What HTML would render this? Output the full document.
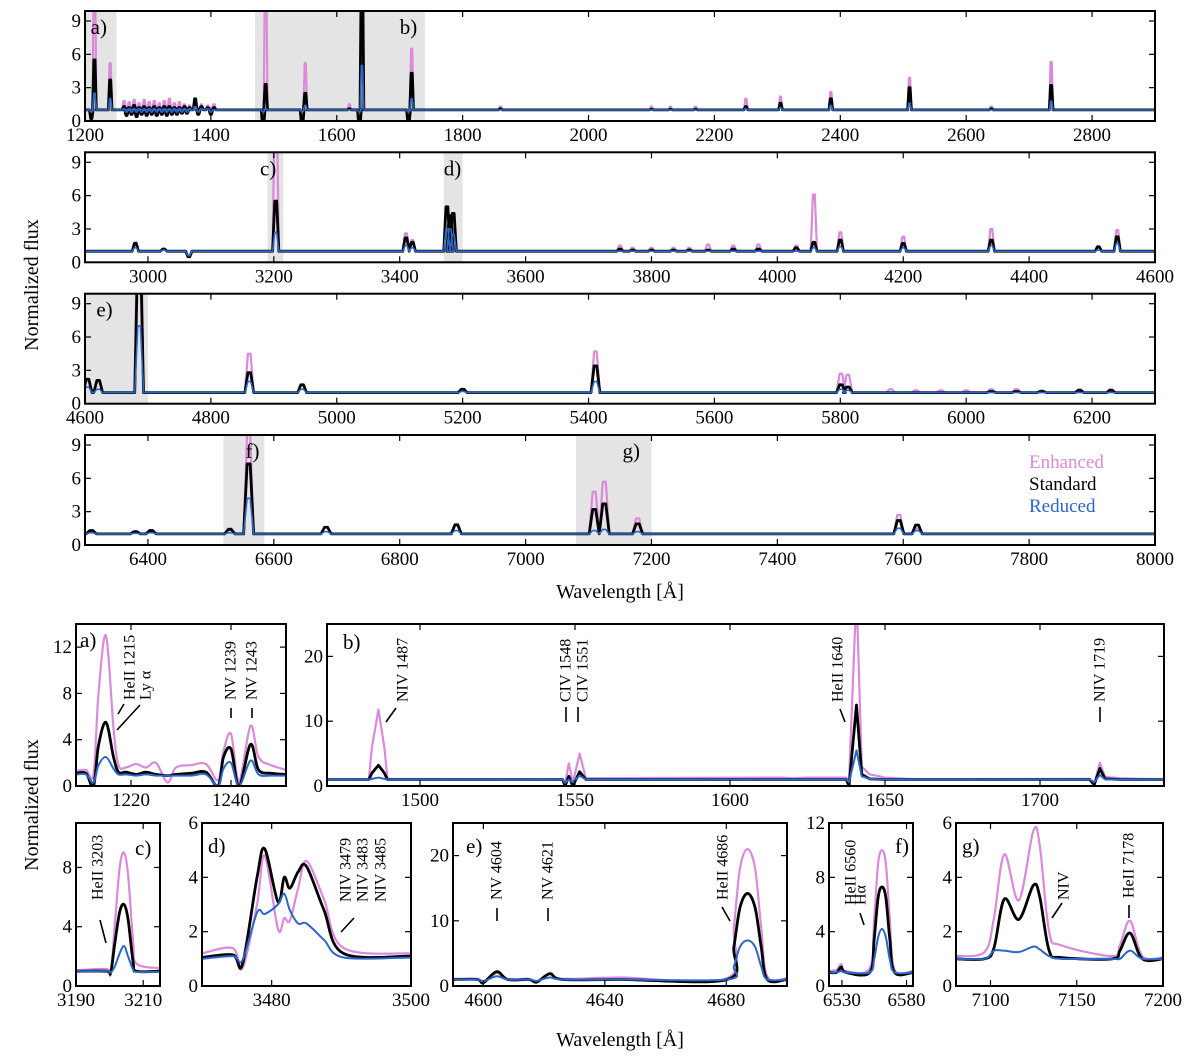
<!DOCTYPE html>
<html><head><meta charset="utf-8"><style>
html,body{margin:0;padding:0;background:#fff;}
svg{display:block;font-family:"Liberation Serif",serif;}
</style></head><body>
<svg id="chart" width="1200" height="1061" viewBox="0 0 1200 1061" xmlns="http://www.w3.org/2000/svg"></svg>
<script>
// ===== Overview panel data (peak wavelengths and peak heights) =====
const p1Wl=[1210,1215,1240,1262,1266,1270,1274,1278,1282,1286,1290,1294,1298,1302,1306,1310,1314,1318,1322,1326,1330,1334,1338,1342,1346,1350,1354,1358,1362,1366,1375,1380,1385,1395,1400,1405,1483,1487,1545,1550,1620,1636,1640,1714,1719,1860,2100,2130,2170,2250,2305,2385,2510,2640,2735];
const p1E=[0.9,15,5.2,1.8,0.7,1.7,0.7,1.9,0.7,1.6,0.7,1.9,0.7,1.7,0.7,1.8,0.7,1.6,0.7,1.8,0.7,2.0,0.7,1.6,0.7,1.7,0.7,1.5,0.7,1.4,2.0,1.2,1.5,1.4,1.2,1.5,0.8,15,0.8,5.2,1.5,0.9,15,0.8,6.5,1.3,1.3,1.3,1.3,2.0,2.2,2.6,3.9,1.3,5.3];
const p1S=[0.2,5.5,3.7,1.3,0.5,1.2,0.6,1.4,0.4,1.2,0.6,1.3,0.5,1.2,0.6,1.3,0.5,1.2,0.6,1.3,0.5,1.3,0.6,1.2,0.6,1.2,0.7,1.3,0.7,1.2,2.0,0.6,1.3,1.2,0.6,1.2,-0.5,3.3,-0.5,2.5,1.1,-0.5,15,-0.3,4.3,1.1,1.05,1.05,1.05,1.3,1.6,2.0,3.0,1.1,3.2];
const p1R=[0.8,2.5,2.0,1.1,0.8,1.1,0.8,1.1,0.8,1.1,0.8,1.1,0.8,1.1,0.8,1.1,0.8,1.1,0.8,1.1,0.8,1.1,0.8,1.1,0.8,1.1,0.8,1.1,0.8,1.1,1.3,0.8,1.1,1.1,0.8,1.0,0.8,1.1,0.8,1.4,1.0,0.8,5.0,0.8,2.0,1,1,1,1,1.1,1.2,1.4,1.6,1,1.8];

const p2Wl=[2980,3025,3065,3203,3410,3420,3475,3480,3485,3750,3770,3800,3835,3860,3890,3930,3970,4030,4058,4100,4200,4340,4510,4540];
const p2E=[1.8,1.2,0.5,15,2.6,2.0,4.7,4.2,4.4,1.5,1.3,1.3,1.3,1.3,1.6,1.5,1.6,1.5,6.1,2.7,2.3,3.0,1.4,2.9];
const p2S=[1.7,1.2,0.5,5.5,2.2,1.8,5.0,4.2,4.4,1.2,1.1,1.1,1.1,1.1,1.1,1.2,1.2,1.3,1.8,2.0,1.7,2.0,1.4,2.3];
const p2R=[1.3,1.1,0.6,2.7,1.5,1.3,3.0,3.0,2.5,1,1,1,1,1,1,1,1,1,1.3,1.4,1.3,1.5,1.1,1.7];

const p3Wl=[4604,4621,4686,4861,4945,5200,5411,5801,5812,5880,5920,5960,6000,6040,6080,6120,6180,6230];
const p3E=[2.2,2.0,21,4.5,1.7,1.3,4.7,2.7,2.6,1.3,1.2,1.2,1.2,1.3,1.3,1.2,1.3,1.3];
const p3S=[2.2,2.1,14,2.8,1.7,1.3,3.4,1.7,1.5,1.0,1.0,1.0,1.0,1.1,1.1,1.1,1.2,1.2];
const p3R=[1.5,1.3,7,2.0,1.3,1.1,2.0,1.3,1.2,1,1,1,1,1,1,1,1,1];

const p4Wl=[6310,6380,6405,6530,6560,6683,6890,7109,7125,7178,7593,7622];
const p4E=[1.3,1.2,1.3,1.5,10,1.6,1.9,4.8,5.7,2.4,2.7,1.5];
const p4S=[1.3,1.2,1.3,1.4,7.3,1.6,1.8,3.2,3.7,1.9,2.2,1.8];
const p4R=[1.1,1.05,1.1,1.1,4.2,1.2,1.3,1.3,1.4,1.2,1.5,1.3];

// ===== Zoom panel data =====
const aWl=[1209,1211,1212.5,1213.5,1215,1216.5,1217.5,1219,1221,1223,1225,1227.3,1229,1232,1235,1237.4,1238.5,1240,1241.6,1243.9,1245.5,1248,1251];
const aE=[1.3,1.4,1.0,8,13,5,1.8,1.6,1.9,1.6,2.0,0.3,1.6,1.8,1.9,0.5,3,4.5,0.4,5.2,2.5,1.8,1.4];
const aS=[1.1,1.1,0.0,3.5,5.5,2.5,1.2,1.2,1.0,1.2,1.0,0.9,1.0,1.1,1.2,0.0,2.5,3.2,0.0,3.6,1.4,1.1,1.0];
const aR=[1.0,1.0,0.3,1.8,2.5,1.5,1.0,1.0,0.9,1.0,0.9,0.9,0.9,0.9,1.0,0.0,1.5,2.0,0.0,2.2,1.0,0.9,0.9];

const bWl=[1470,1483.5,1484.5,1486.6,1488.5,1489.5,1546,1546.8,1548,1549.3,1551.5,1553.5,1617,1620,1625,1637.5,1638.4,1640.8,1642.5,1645,1650,1660,1716,1717.5,1719.3,1721,1726,1740];
const bE=[1,1,6,11.8,6,1.1,1,0.3,3.5,0.5,5,1.2,1.3,1.2,1.3,1.3,0.8,30,3,1.8,1.3,1.05,1.1,0.3,3.6,1.4,1.2,1.0];
const bS=[1,1,2,3.2,2,1,1,0,1.5,0,2.2,1.0,1.0,1.0,1.0,1.0,0,12.5,1.8,1.1,1.0,1.0,1.0,0.2,2.7,1.1,1.0,1.0];
const bR=[1,1,1.1,1.3,1.1,1,1,0.5,1.0,0.6,1.6,1,1,1,1,1,0.6,5.5,1.5,1.1,1,1,1,0.6,1.7,1.0,1.0,1.0];

const cWl=[3190,3199,3200.3,3201.5,3203,3204.3,3205.5,3207,3208,3215];
const cE=[1.05,1.15,0.85,4,8,9.0,7.5,3,1.5,1.2];
const cS=[1.0,1.0,0.9,2.8,5.0,5.5,4.5,1.6,1.0,1.0];
const cR=[1.0,1.0,0.9,1.3,2.2,2.7,2.0,1.1,0.95,0.95];

const dWl=[3470,3474.4,3475.8,3477.9,3479.0,3480.9,3481.8,3482.6,3483.8,3485.0,3487.5,3490.3,3500];
const dE=[1.2,1.4,0.65,3.0,4.8,2.1,2.5,2.4,3.6,4.6,3.2,1.4,1.2];
const dS=[1.05,1.15,0.8,4.0,5.05,3.1,4.0,3.6,4.2,4.4,2.8,1.2,1.1];
const dR=[1.0,1.1,0.95,2.7,2.65,3.0,3.4,2.8,2.3,2.3,1.7,1.05,1.05];

const eWl=[4590,4598,4600,4604.4,4608,4615,4617.6,4621.9,4626,4645,4680.3,4682.5,4684.5,4687,4689.5,4691.5,4693.5,4700];
const eE=[1.1,1.1,0.7,2.0,1.1,1.1,0.7,1.8,1.1,1.3,1.2,9,18,21,18,9,1.5,1.2];
const eS=[1.0,1.0,0.5,2.2,1.0,1.0,0.6,1.9,1.0,1.0,1.0,6,12,14.2,12,6,1.0,1.0];
const eR=[1.0,1.0,0.7,1.5,1.0,1.0,0.8,1.3,1.0,1.0,1.0,3,6,7,6,3,1.0,1.0];

const fWl=[6520,6526,6529.4,6533,6551.5,6555,6558,6561,6564,6567,6570.7,6585];
const fE=[1.1,1.2,1.6,1.1,1.3,5,9,10,9,5,1.2,1.1];
const fS=[1.0,1.0,1.4,1.0,1.0,3.5,6.5,7.3,6.5,3.5,1.0,1.0];
const fR=[1.0,1.0,1.1,1.0,1.0,2,3.6,4.2,3.6,2,1.0,1.0];

const gWl=[7080,7096.5,7102,7108,7116.4,7124.8,7128.5,7134,7141,7170.5,7175,7180.9,7188,7200];
const gE=[1.1,1.25,2.5,4.85,3.15,5.7,5.2,2.0,1.5,1.1,1.5,2.4,1.1,1.05];
const gS=[1.0,1.0,1.4,3.2,2.45,3.7,3.3,1.3,1.05,1.0,1.3,1.95,1.0,1.0];
const gR=[1.0,1.0,1.3,1.3,1.25,1.45,1.35,1.1,1.0,1.0,1.0,1.3,1.0,1.0];

const COL={E:'#da8ad9',S:'#000000',R:'#2a66c8'};
const NS='http://www.w3.org/2000/svg';
const svg=document.getElementById('chart');
let clipN=0;
function mk(tag,parent,attrs){const e=document.createElementNS(NS,tag);for(const k in attrs)e.setAttribute(k,attrs[k]);parent.appendChild(e);return e;}

function makePanel(name,L,T,R,B,xmin,xmax,ymin,ymax){
  const g=mk('g',svg,{});
  
  
  const id='clip'+(clipN++);
  const cp=mk('clipPath',g,{id:id});
  mk('rect',cp,{x:L,y:T,width:R-L,height:B-T});
  const plot=mk('g',g,{'clip-path':'url(#'+id+')'});
  
  
  return {g,plot,L,T,R,B,sx:v=>L+(v-xmin)/(xmax-xmin)*(R-L),sy:v=>B-(v-ymin)/(ymax-ymin)*(B-T)};
}
function shade(p,a,b){
  const r=mk('rect',p.plot,{x:p.sx(a),y:p.T,width:p.sx(b)-p.sx(a),height:p.B-p.T,fill:'#e4e4e4'});
  
  
}
function finish(p,xt,yt,fs){
  const fr=mk('rect',p.g,{x:p.L,y:p.T,width:p.R-p.L,height:p.B-p.T,fill:'none',stroke:'#000','stroke-width':2});
  
  
  xt.forEach(v=>{
    const x=p.sx(v);
    mk('line',p.g,{x1:x,y1:p.B,x2:x,y2:p.B-6,stroke:'#000','stroke-width':1.2});
    mk('line',p.g,{x1:x,y1:p.T,x2:x,y2:p.T+6,stroke:'#000','stroke-width':1.2});
    const t=mk('text',p.g,{x:x,y:p.B+20,'font-size':fs,'text-anchor':'middle'});
    t.textContent=v;
    
    
  });
  yt.forEach(v=>{
    const y=p.sy(v);
    mk('line',p.g,{x1:p.L,y1:y,x2:p.L+6,y2:y,stroke:'#000','stroke-width':1.2});
    mk('line',p.g,{x1:p.R,y1:y,x2:p.R-6,y2:y,stroke:'#000','stroke-width':1.2});
    const t=mk('text',p.g,{x:p.L-4,y:y+6,'font-size':fs,'text-anchor':'end'});
    t.textContent=v;
    
    
  });
}
function spikes(p,wl,vals,w,xmin,xmax,key,sw){
  let pts=[[xmin,1]];
  wl.forEach((l,i)=>{pts.push([l-w,1],[l-w*0.3,vals[i]],[l+w*0.3,vals[i]],[l+w,1]);});
  pts.push([xmax,1]);
  const d=pts.map(q=>p.sx(q[0]).toFixed(2)+','+p.sy(q[1]).toFixed(2)).join(' ');
  const e=mk('polyline',p.plot,{points:d,fill:'none',stroke:COL[key],'stroke-width':sw,'stroke-linejoin':'round'});
  
  
}
function curve(p,wl,vals,key,sw,smooth){
  const P=wl.map((l,i)=>[p.sx(l),p.sy(vals[i])]);
  let d='M'+P[0][0].toFixed(2)+','+P[0][1].toFixed(2);
  for(let i=0;i<P.length-1;i++){
    if(!smooth){d+=' L'+P[i+1][0].toFixed(2)+','+P[i+1][1].toFixed(2);continue;}
    const p0=P[Math.max(0,i-1)],p1=P[i],p2=P[i+1],p3=P[Math.min(P.length-1,i+2)];
    const c1=[p1[0]+(p2[0]-p0[0])/6,p1[1]+(p2[1]-p0[1])/6];
    const c2=[p2[0]-(p3[0]-p1[0])/6,p2[1]-(p3[1]-p1[1])/6];
    d+=' C'+c1[0].toFixed(2)+','+c1[1].toFixed(2)+' '+c2[0].toFixed(2)+','+c2[1].toFixed(2)+' '+p2[0].toFixed(2)+','+p2[1].toFixed(2);
  }
  const e=mk('path',p.plot,{d:d,fill:'none',stroke:COL[key],'stroke-width':sw,'stroke-linejoin':'round'});
  
  
}
function label(txt,x,y,fs,name,anchor){
  const t=mk('text',svg,{x:x,y:y,'font-size':fs,'text-anchor':anchor||'start'});
  t.textContent=txt;
  
  
  return t;
}
function vlabel(txt,x,y,fs){
  const t=mk('text',svg,{x:x,y:y,'font-size':fs,transform:'rotate(-90 '+x+' '+y+')','dominant-baseline':'central'});
  t.textContent=txt;
  
  
}
function seg(x1,y1,x2,y2){
  const l=mk('line',svg,{x1:x1,y1:y1,x2:x2,y2:y2,stroke:'#000','stroke-width':1.6});
  
  
}

// ===== Overview panels =====
const tops=[
 {n:'overview-1',T:11,B:121,x0:1200,x1:2900,wl:p1Wl,E:p1E,S:p1S,R:p1R,w:3,xt:[1200,1400,1600,1800,2000,2200,2400,2600,2800],sh:[[1200,1250,'a)',1209],[1470,1740,'b)',1700]]},
 {n:'overview-2',T:152.3,B:262.3,x0:2900,x1:4600,wl:p2Wl,E:p2E,S:p2S,R:p2R,w:5,xt:[3000,3200,3400,3600,3800,4000,4200,4400,4600],sh:[[3190,3215,'c)',3178],[3470,3500,'d)',3470]]},
 {n:'overview-3',T:293.7,B:403.7,x0:4600,x1:6300,wl:p3Wl,E:p3E,S:p3S,R:p3R,w:7,xt:[4600,4800,5000,5200,5400,5600,5800,6000,6200],sh:[[4590,4700,'e)',4618]]},
 {n:'overview-4',T:435,B:545,x0:6300,x1:8000,wl:p4Wl,E:p4E,S:p4S,R:p4R,w:8,xt:[6400,6600,6800,7000,7200,7400,7600,7800,8000],sh:[[6520,6585,'f)',6555],[7080,7200,'g)',7154]]}
];
tops.forEach(c=>{
  const p=makePanel(c.n,85,c.T,1155,c.B,c.x0,c.x1,0,9.9);
  c.sh.forEach(s=>shade(p,s[0],s[1]));
  spikes(p,c.wl,c.E,c.w,c.x0,c.x1,'E',2.2);
  spikes(p,c.wl,c.S,c.w,c.x0,c.x1,'S',2.8);
  spikes(p,c.wl,c.R,c.w,c.x0,c.x1,'R',1.6);
  finish(p,c.xt,[0,3,6,9],19);
  c.sh.forEach(s=>label(s[2],p.sx(s[3]),c.T+23,21,'region-label'));
});
label('Enhanced',1029,468,19,'legend-enhanced').setAttribute('fill',COL.E);
label('Standard',1029,490,19,'legend-standard');
label('Reduced',1029,512,19,'legend-reduced').setAttribute('fill',COL.R);
label('Wavelength [Å]',620,598,20,'x-axis-title-top','middle');
const yt1=label('Normalized flux',38,285,20,'y-axis-title-top','middle');yt1.setAttribute('transform','rotate(-90 38 285)');

// ===== Zoom panels =====
const zooms=[
 {n:'zoom-a',L:76,T:624,R:286,B:786,x0:1209,x1:1251,y1:14,wl:aWl,E:aE,S:aS,R2:aR,xt:[1220,1240],yt:[0,4,8,12],lab:'a)',lx:80,ly:647,sm:true},
 {n:'zoom-b',L:327,T:624,R:1164,B:786,x0:1470,x1:1740,y1:25,wl:bWl,E:bE,S:bS,R2:bR,xt:[1500,1550,1600,1650,1700],yt:[0,10,20],lab:'b)',lx:343,ly:649,sm:false},
 {n:'zoom-c',L:76,T:823,R:160,B:986,x0:3190,x1:3215,y1:11,wl:cWl,E:cE,S:cS,R2:cR,xt:[3190,3210],yt:[0,4,8],lab:'c)',lx:135,ly:855,sm:true},
 {n:'zoom-d',L:202,T:823,R:411,B:986,x0:3470,x1:3500,y1:6,wl:dWl,E:dE,S:dS,R2:dR,xt:[3480,3500],yt:[0,2,4,6],lab:'d)',lx:208,ly:853,sm:true},
 {n:'zoom-e',L:453,T:823,R:787,B:986,x0:4590,x1:4700,y1:25,wl:eWl,E:eE,S:eS,R2:eR,xt:[4600,4640,4680],yt:[0,10,20],lab:'e)',lx:466,ly:853,sm:true},
 {n:'zoom-f',L:829,T:823,R:913,B:986,x0:6520,x1:6585,y1:12,wl:fWl,E:fE,S:fS,R2:fR,xt:[6530,6580],yt:[0,4,8,12],lab:'f)',lx:895,ly:853,sm:true},
 {n:'zoom-g',L:956,T:823,R:1163,B:986,x0:7080,x1:7200,y1:6,wl:gWl,E:gE,S:gS,R2:gR,xt:[7100,7150,7200],yt:[0,2,4,6],lab:'g)',lx:962,ly:853,sm:true}
];
zooms.forEach(c=>{
  const p=makePanel(c.n,c.L,c.T,c.R,c.B,c.x0,c.x1,0,c.y1);
  curve(p,c.wl,c.E,'E',2.2,c.sm);
  curve(p,c.wl,c.S,'S',2.8,c.sm);
  curve(p,c.wl,c.R2,'R',2.0,c.sm);
  finish(p,c.xt,c.yt,19);
  label(c.lab,c.lx,c.ly,21,'panel-label');
});
label('Wavelength [Å]',620,1046,20,'x-axis-title-bottom','middle');
const yt2=label('Normalized flux',38,805,20,'y-axis-title-bottom','middle');yt2.setAttribute('transform','rotate(-90 38 805)');

// line identifications
vlabel('HeII 1215',130,700,16); vlabel('Ly α',146,700,16);
seg(118,714,124,704); seg(117,730,140,705);
vlabel('NV 1239',231,700,16); seg(231,708,231,718);
vlabel('NV 1243',252,700,16); seg(252,708,252,718);
vlabel('NIV 1487',403,702,16); seg(386,722,396,708);
vlabel('CIV 1548',566,702,16); vlabel('CIV 1551',583,702,16);
seg(566,707,566,722); seg(578,707,578,722);
vlabel('HeII 1640',838,702,16); seg(845,722,840,709);
vlabel('NIV 1719',1100,702,16); seg(1100,707,1100,722);
vlabel('HeII 3203',98,900,16); seg(100,920,106,943);
vlabel('NIV 3479',346,902,16); vlabel('NIV 3483',363,902,16); vlabel('NIV 3485',381,902,16);
seg(341,932,354,918);
vlabel('NV 4604',497,900,16); seg(497,908,497,921);
vlabel('NV 4621',548,900,16); seg(548,908,548,921);
vlabel('HeII 4686',723,900,16); seg(722,907,730,921);
vlabel('HeII 6560',851,905,16); vlabel('Hα',861,905,16); seg(860,913,864,925);
vlabel('NIV',1064,900,16); seg(1052,918,1062,903);
vlabel('HeII 7178',1129,898,16); seg(1129,905,1129,918);
</script>
</body></html>
